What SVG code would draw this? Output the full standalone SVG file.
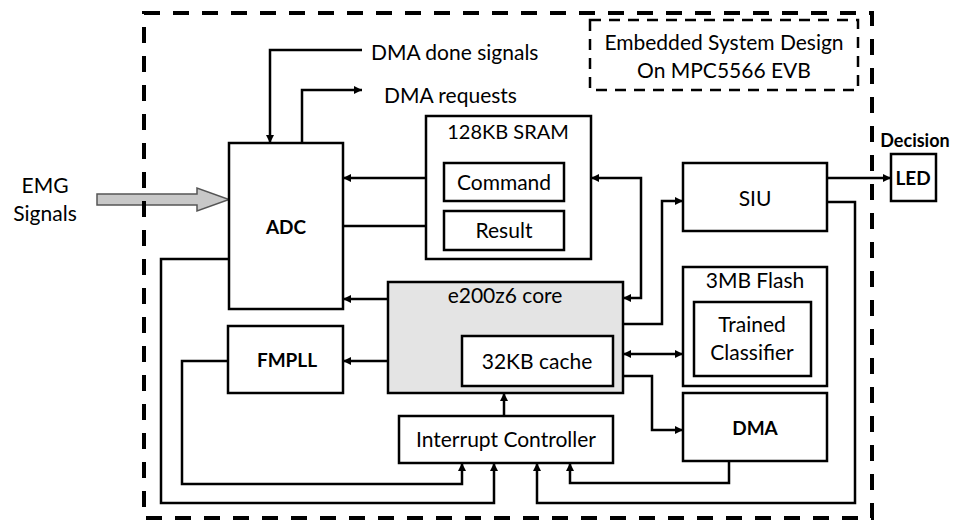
<svg xmlns="http://www.w3.org/2000/svg" width="956" height="521" viewBox="0 0 956 521">
<defs>
<marker id="ah" viewBox="0 0 10 10" refX="10" refY="5" markerWidth="10" markerHeight="8" markerUnits="userSpaceOnUse" orient="auto-start-reverse">
<path d="M0,0 L10,5 L0,10 z" fill="#000"/>
</marker>
<style>
.box{fill:#fff;stroke:#000;stroke-width:2.5}
.core{fill:#e4e4e4;stroke:#000;stroke-width:2.5}
.ln{fill:none;stroke:#000;stroke-width:2.5}
.t{font-family:Lato,"Liberation Sans",Arial,sans-serif;font-size:21px;fill:#000;text-anchor:middle}
.b{font-weight:bold}
.tl{text-anchor:start}
</style>
</defs>
<rect width="956" height="521" fill="#fff"/>

<g id="emg-arrow">
<path d="M97,194 H197 V188 L229,199.5 L197,211 V205 H97 Z" fill="#c8c8c8" stroke="#555" stroke-width="1.5"/>
<text class="t" x="45" y="193">EMG</text>
<text class="t" x="45" y="221">Signals</text>
</g>

<g id="outer">
<rect x="144" y="13" width="728" height="505" fill="none" stroke="#000" stroke-width="4" stroke-dasharray="16 13"/>
</g>

<g id="title">
<rect x="590" y="20" width="268" height="70" fill="none" stroke="#000" stroke-width="2.5" stroke-dasharray="11 8"/>
<text class="t" x="724" y="50">Embedded System Design</text>
<text class="t" x="724" y="78">On MPC5566 EVB</text>
</g>

<g id="connectors">
<path class="ln" d="M362,50 H270 V143" marker-end="url(#ah)"/>
<path class="ln" d="M302,143 V90 H362" marker-end="url(#ah)"/>
<path class="ln" d="M444,178 H343" marker-end="url(#ah)"/>
<path class="ln" d="M343,226 H444" marker-end="url(#ah)"/>
<path class="ln" d="M229,259 H161 V503 H494 V463" marker-end="url(#ah)"/>
<path class="ln" d="M228,361 H182 V484 H462 V463" marker-end="url(#ah)"/>
<path class="ln" d="M388,299 H343" marker-end="url(#ah)"/>
<path class="ln" d="M388,361 H343" marker-end="url(#ah)"/>
<path class="ln" d="M504,416 V393" marker-end="url(#ah)"/>
<path class="ln" d="M591,178 H641 V298 H623" marker-start="url(#ah)" marker-end="url(#ah)"/>
<path class="ln" d="M623,324 H662 V201 H683" marker-end="url(#ah)"/>
<path class="ln" d="M827,178 H891" marker-end="url(#ah)"/>
<path class="ln" d="M827,202 H855 V503 H537 V463" marker-end="url(#ah)"/>
<path class="ln" d="M623,354 H683" marker-start="url(#ah)" marker-end="url(#ah)"/>
<path class="ln" d="M623,376 H652 V430 H683" marker-end="url(#ah)"/>
<path class="ln" d="M729,461 V483 H570 V463" marker-end="url(#ah)"/>
</g>

<g id="labels">
<text class="t tl" x="371" y="60">DMA done signals</text>
<text class="t tl" x="384" y="103">DMA requests</text>
</g>

<g id="adc">
<rect class="box" x="229" y="143" width="114" height="166"/>
<text class="t b" x="286" y="234" style="font-size:19px">ADC</text>
</g>

<g id="sram">
<rect class="box" x="426" y="116" width="165" height="143"/>
<text class="t" x="508" y="139" style="font-size:20px">128KB SRAM</text>
</g>
<g id="command">
<rect class="box" x="444" y="163" width="120" height="38"/>
<text class="t" x="504" y="190">Command</text>
</g>
<g id="result">
<rect class="box" x="444" y="211" width="120" height="39"/>
<text class="t" x="504" y="238">Result</text>
</g>

<g id="core">
<rect class="core" x="388" y="282" width="235" height="111"/>
<text class="t" x="505" y="303">e200z6 core</text>
</g>
<g id="cache">
<rect class="box" x="462" y="336" width="151" height="50"/>
<text class="t" x="537" y="369">32KB cache</text>
</g>

<g id="fmpll">
<rect class="box" x="228" y="326" width="115" height="67"/>
<text class="t b" x="287" y="367" style="font-size:19px">FMPLL</text>
</g>

<g id="intc">
<rect class="box" x="399" y="416" width="214" height="47"/>
<text class="t" x="506" y="447">Interrupt Controller</text>
</g>

<g id="siu">
<rect class="box" x="683" y="163" width="144" height="68"/>
<text class="t" x="755" y="206">SIU</text>
</g>

<g id="led">
<rect class="box" x="891" y="154" width="45" height="47"/>
<text class="t b" x="913" y="185" style="font-size:19px">LED</text>
<text class="t b" x="915" y="147" style="font-size:18px">Decision</text>
</g>

<g id="flash">
<rect class="box" x="683" y="267" width="144" height="119"/>
<text class="t" x="755" y="288">3MB Flash</text>
</g>
<g id="classifier">
<rect class="box" x="694" y="302" width="117" height="74"/>
<text class="t" x="752" y="332">Trained</text>
<text class="t" x="752" y="360">Classifier</text>
</g>

<g id="dma">
<rect class="box" x="683" y="393" width="144" height="68"/>
<text class="t b" x="755" y="435" style="font-size:19px">DMA</text>
</g>
</svg>
